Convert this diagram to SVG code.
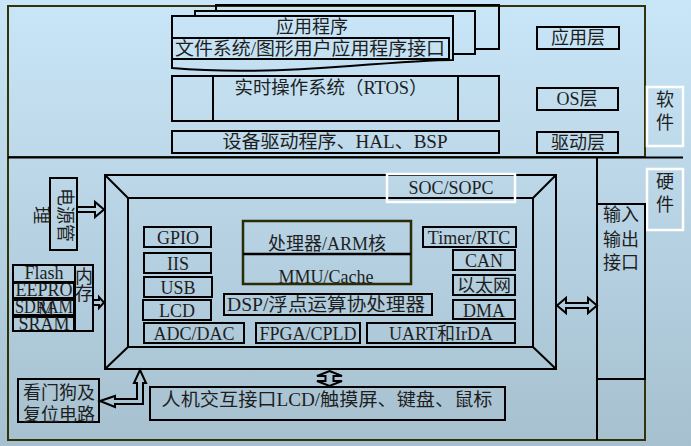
<svg xmlns="http://www.w3.org/2000/svg" width="691" height="446" viewBox="0 0 691 446">
<defs>
<linearGradient id="bg" x1="0" y1="0" x2="0" y2="1">
<stop offset="0" stop-color="#c9e6f8"/>
<stop offset="1" stop-color="#a6c0cf"/>
</linearGradient>
<style>
.t{font-family:"Liberation Serif","Noto Sans CJK SC",serif;fill:#1e1e1e;text-anchor:middle;font-size:18px}
.b{fill:none;stroke:#000;stroke-width:2}
.o{fill:none;stroke:#33330a;stroke-width:2}
.w{fill:none;stroke:#fff;stroke-width:2.5}
.a{fill:none;stroke:#000;stroke-width:2;stroke-linejoin:miter}
</style>
</defs>
<rect x="0" y="0" width="691" height="446" fill="url(#bg)"/>

<g id="frames">
<rect class="o" x="8" y="6" width="637" height="151"/>
<path class="o" d="M8,157 L8,440 L645,440 L645,204"/>
<path class="b" d="M8,157.5 L683,157.5"/>
<path class="b" d="M597,157 L597,440"/>
</g>

<g id="app-stack">
<path class="b" d="M216,11 L216,5 L499,5 L499,49 L475,49"/>
<path class="b" d="M195,16 L195,11 L475,11 L475,54 L453,54"/>
<path class="b" d="M172,68 L172,16 L453,16 L453,60 C430,60 390,63 350,66 C300,70 230,73 172,68 Z"/>
<text class="t" x="312" y="33">应用程序</text>
</g>
<g id="gui-api">
<rect class="b" x="172" y="38" width="277" height="21"/>
<text class="t" x="310" y="55" font-size="19" textLength="270" lengthAdjust="spacingAndGlyphs">文件系统/图形用户应用程序接口</text>
</g>
<g id="rtos">
<rect class="b" x="172" y="76" width="327" height="45"/>
<path class="b" d="M213,76 L213,121 M458,76 L458,121"/>
<text class="t" x="331" y="94" textLength="193" lengthAdjust="spacingAndGlyphs">实时操作系统（RTOS）</text>
</g>
<g id="driver">
<rect class="b" x="172" y="131" width="327" height="22"/>
<text class="t" x="335" y="148" textLength="225" lengthAdjust="spacingAndGlyphs">设备驱动程序、HAL、BSP</text>
</g>
<g id="app-layer">
<rect class="b" x="537" y="27" width="82" height="22"/>
<text class="t" x="578" y="44">应用层</text>
</g>
<g id="os-layer">
<rect class="b" x="537" y="88" width="81" height="22"/>
<text class="t" x="577" y="105">OS层</text>
</g>
<g id="drv-layer">
<rect class="b" x="537" y="132" width="81" height="21"/>
<text class="t" x="578" y="149">驱动层</text>
</g>
<g id="software">
<rect class="w" x="647" y="87" width="36" height="59"/>
<text class="t" x="665" y="106">软</text>
<text class="t" x="665" y="129">件</text>
</g>
<g id="hardware">
<rect class="w" x="647" y="169" width="36" height="61"/>
<text class="t" x="665" y="188">硬</text>
<text class="t" x="665" y="211">件</text>
</g>

<g id="power">
<rect class="b" x="50" y="178" width="27" height="72"/>
<text class="t" transform="translate(65,215) rotate(90)"><tspan x="0" y="6">电源管</tspan><tspan x="0" y="30">理</tspan></text>
</g>
<g id="memory">
<rect class="b" x="13" y="265" width="62" height="17"/>
<rect class="b" x="13" y="283" width="61" height="15"/>
<rect class="b" x="13" y="300" width="61" height="15"/>
<rect class="b" x="13" y="317" width="61" height="14"/>
<rect class="b" x="75" y="265" width="18" height="66"/>
<text class="t" x="44" y="279" font-size="15">Flash</text>
<text class="t" x="44" y="296" font-size="15">EEPRO</text>
<text class="t" x="44" y="313" font-size="15" textLength="58" lengthAdjust="spacingAndGlyphs">SDRAM</text>
<text class="t" x="46" y="315" font-size="13">M</text>
<text class="t" x="44" y="330" font-size="15">SRAM</text>
<text class="t" x="84" y="283" font-size="17">内</text>
<text class="t" x="84" y="300" font-size="17">存</text>
</g>

<g id="soc">
<rect class="b" x="105" y="175" width="451" height="194"/>
<rect class="b" x="128" y="198" width="405" height="149"/>
<path class="b" d="M105,175 L128,198 M556,175 L533,198 M105,369 L128,347 M556,369 L533,347"/>
</g>
<g id="soc-label">
<rect class="w" x="387" y="174" width="128" height="28"/>
<text class="t" x="451" y="194">SOC/SOPC</text>
</g>
<g id="cpu">
<rect x="243" y="221" width="168" height="63" fill="none" stroke="#2b2b05" stroke-width="2.5"/>
<path d="M243,254 L411,254" stroke="#000" stroke-width="2.5"/>
<text class="t" x="327" y="250">处理器/ARM核</text>
<text class="t" x="326" y="283" font-size="14">MMU/Cache</text>
</g>
<g id="gpio"><rect class="b" x="144" y="227" width="67" height="20"/><text class="t" x="178" y="244">GPIO</text></g>
<g id="iis"><rect class="b" x="144" y="253" width="67" height="20"/><text class="t" x="178" y="270">IIS</text></g>
<g id="usb"><rect class="b" x="144" y="277" width="68" height="20"/><text class="t" x="178" y="294">USB</text></g>
<g id="lcd"><rect class="b" x="143" y="300" width="68" height="20"/><text class="t" x="177" y="317">LCD</text></g>
<g id="adc"><rect class="b" x="144" y="323" width="100" height="20"/><text class="t" x="194" y="340">ADC/DAC</text></g>
<g id="fpga"><rect class="b" x="256" y="323" width="104" height="20"/><text class="t" x="308" y="340">FPGA/CPLD</text></g>
<g id="uart"><rect class="b" x="367" y="323" width="148" height="20"/><text class="t" x="441" y="340">UART和IrDA</text></g>
<g id="dsp"><rect class="b" x="224" y="294" width="208" height="21"/><text class="t" x="326" y="311" textLength="198" lengthAdjust="spacingAndGlyphs">DSP/浮点运算协处理器</text></g>
<g id="timer"><rect class="b" x="423" y="227" width="93" height="20"/><text class="t" x="469" y="244">Timer/RTC</text></g>
<g id="can"><rect class="b" x="453" y="250" width="62" height="20"/><text class="t" x="484" y="267">CAN</text></g>
<g id="ethernet"><rect class="b" x="453" y="275" width="62" height="20"/><text class="t" x="484" y="292">以太网</text></g>
<g id="dma"><rect class="b" x="453" y="300" width="62" height="19"/><text class="t" x="484" y="317">DMA</text></g>

<g id="io">
<path class="b" d="M597,204 L645,204 L645,379 L597,379"/>
<text class="t" x="621" y="221">输入</text>
<text class="t" x="621" y="246">输出</text>
<text class="t" x="621" y="269">接口</text>
</g>
<g id="watchdog">
<rect class="b" x="18" y="379" width="81" height="43"/>
<text class="t" x="59" y="399" font-size="19">看门狗及</text>
<text class="t" x="59" y="421" font-size="19">复位电路</text>
</g>
<g id="hmi">
<rect class="b" x="150" y="387" width="355" height="33"/>
<text class="t" x="327" y="406" font-size="19" textLength="331" lengthAdjust="spacingAndGlyphs">人机交互接口LCD/触摸屏、键盘、鼠标</text>
</g>

<g id="connectors">
<polygon class="a" points="77,207 95,207 95,202 104,209.5 95,217 95,212 77,212"/>
<polygon class="a" points="93,300 99,300 99,297 104,302.5 99,308 99,305 93,305"/>
<polygon class="a" points="557,305.5 566,298 566,303 588,303 588,298 597,305.5 588,313 588,308 566,308 566,313"/>
<polygon class="a" points="329.5,371 342,376 333.5,376 333.5,381 342,381 329.5,386 317,381 325.5,381 325.5,376 317,376"/>
<polygon class="a" points="100,401 115,396 115,399 137,399 137,383 134,383 140,370 146,383 143,383 143,404 115,404 115,407"/>
</g>
</svg>
